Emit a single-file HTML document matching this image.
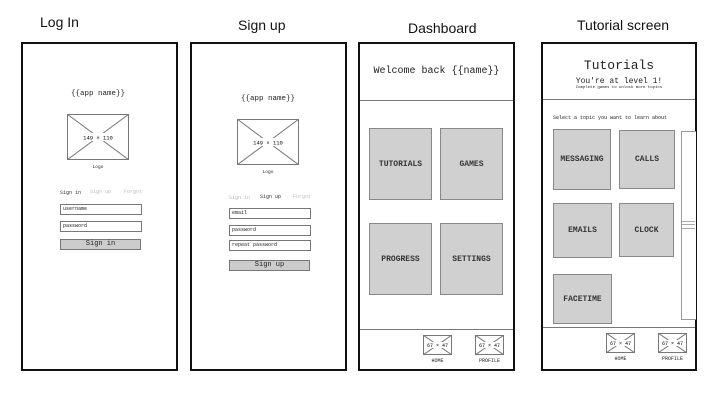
<!DOCTYPE html>
<html><head><meta charset="utf-8"><style>
*{margin:0;padding:0;box-sizing:border-box}
body{width:720px;height:405px;background:#fff;position:relative;overflow:hidden;font-family:"Liberation Mono",monospace;color:#222}
.a{position:absolute}
.frame{position:absolute;border:2px solid #111;background:#fff}
.title{position:absolute;font-family:"Liberation Sans",sans-serif;font-size:14px;color:#111;white-space:nowrap}
.c{position:absolute;text-align:center;white-space:nowrap}
.inp{position:absolute;border:1px solid #777;background:#fff;font-size:5px;padding-left:2px;line-height:9px}
.btn{position:absolute;border:1px solid #777;background:#ccc;font-size:7px;text-align:center}
.tile{position:absolute;background:#d0d0d0;border:1px solid #888;font-size:8px;font-weight:bold;display:flex;align-items:center;justify-content:center;color:#333}
.hl{position:absolute;height:1px;background:#777}
svg{position:absolute}
</style></head><body>

<div class="title" style="left:40px;top:14px">Log In</div>
<div class="title" style="left:238px;top:17px">Sign up</div>
<div class="title" style="left:408px;top:20px">Dashboard</div>
<div class="title" style="left:577px;top:17px">Tutorial screen</div>

<!-- Log In -->
<div class="frame" style="left:21px;top:42px;width:157px;height:329px"></div>
<div class="c" style="left:40px;width:116px;top:90px;font-size:7.5px">{{app name}}</div>
<svg style="left:67px;top:114px" width="62" height="46"><rect x="0.5" y="0.5" width="61" height="45" fill="#fff" stroke="#777"/><line x1="0" y1="0" x2="62" y2="46" stroke="#777"/><line x1="62" y1="0" x2="0" y2="46" stroke="#777"/><rect x="22" y="19" width="18" height="8" fill="#fff"/><text x="31" y="25.5" font-size="5.5" text-anchor="middle" font-family="Liberation Mono">149 × 110</text></svg>
<div class="c" style="left:40px;width:116px;top:165px;font-size:4.5px">Logo</div>
<div class="a" style="left:60px;top:190px;font-size:5px;color:#333">Sign in</div>
<div class="a" style="left:90px;top:189px;font-size:5px;color:#bbb">Sign up</div>
<div class="a" style="left:124px;top:189px;font-size:5px;color:#bbb">Forgot</div>
<div class="inp" style="left:60px;top:204px;width:82px;height:11px">username</div>
<div class="inp" style="left:60px;top:221px;width:82px;height:11px">password</div>
<div class="btn" style="left:60px;top:239px;width:81px;height:11px;line-height:9px">Sign in</div>

<!-- Sign up -->
<div class="frame" style="left:190px;top:42px;width:157px;height:329px"></div>
<div class="c" style="left:210px;width:116px;top:95px;font-size:7.5px">{{app name}}</div>
<svg style="left:237px;top:119px" width="62" height="46"><rect x="0.5" y="0.5" width="61" height="45" fill="#fff" stroke="#777"/><line x1="0" y1="0" x2="62" y2="46" stroke="#777"/><line x1="62" y1="0" x2="0" y2="46" stroke="#777"/><rect x="22" y="19" width="18" height="8" fill="#fff"/><text x="31" y="25.5" font-size="5.5" text-anchor="middle" font-family="Liberation Mono">149 × 110</text></svg>
<div class="c" style="left:210px;width:116px;top:170px;font-size:4.5px">Logo</div>
<div class="a" style="left:229px;top:195px;font-size:5px;color:#bbb">Sign in</div>
<div class="a" style="left:260px;top:194px;font-size:5px;color:#333">Sign up</div>
<div class="a" style="left:293px;top:194px;font-size:5px;color:#bbb">Forgot</div>
<div class="inp" style="left:229px;top:208px;width:82px;height:11px">email</div>
<div class="inp" style="left:229px;top:225px;width:82px;height:11px">password</div>
<div class="inp" style="left:229px;top:240px;width:82px;height:11px">repeat password</div>
<div class="btn" style="left:229px;top:260px;width:81px;height:11px;line-height:9px">Sign up</div>

<!-- Dashboard -->
<div class="frame" style="left:358px;top:42px;width:157px;height:329px"></div>
<div class="c" style="left:360px;width:153px;top:66px;font-size:10px">Welcome back {{name}}</div>
<div class="hl" style="left:360px;width:153px;top:100px"></div>
<div class="tile" style="left:369px;top:128px;width:63px;height:72px">TUTORIALS</div>
<div class="tile" style="left:440px;top:128px;width:63px;height:72px">GAMES</div>
<div class="tile" style="left:369px;top:223px;width:63px;height:72px">PROGRESS</div>
<div class="tile" style="left:440px;top:223px;width:63px;height:72px">SETTINGS</div>
<div class="hl" style="left:360px;width:153px;top:329px"></div>
<svg style="left:423px;top:335px" width="29" height="20"><rect x="0.5" y="0.5" width="28" height="19" fill="#fff" stroke="#777"/><line x1="0" y1="0" x2="29" y2="20" stroke="#777"/><line x1="29" y1="0" x2="0" y2="20" stroke="#777"/><rect x="7" y="7" width="15" height="6" fill="#fff"/><text x="14.5" y="12" font-size="5" text-anchor="middle" font-family="Liberation Mono">67 × 47</text></svg>
<svg style="left:475px;top:335px" width="29" height="20"><rect x="0.5" y="0.5" width="28" height="19" fill="#fff" stroke="#777"/><line x1="0" y1="0" x2="29" y2="20" stroke="#777"/><line x1="29" y1="0" x2="0" y2="20" stroke="#777"/><rect x="7" y="7" width="15" height="6" fill="#fff"/><text x="14.5" y="12" font-size="5" text-anchor="middle" font-family="Liberation Mono">67 × 47</text></svg>
<div class="c" style="left:417px;width:41px;top:358px;font-size:5px">HOME</div>
<div class="c" style="left:469px;width:41px;top:358px;font-size:5px">PROFILE</div>

<!-- Tutorial -->
<div class="frame" style="left:541px;top:42px;width:156px;height:329px"></div>
<div class="c" style="left:543px;width:152px;top:58px;font-size:13px">Tutorials</div>
<div class="c" style="left:543px;width:152px;top:77px;font-size:8px">You're at level 1!</div>
<div class="c" style="left:543px;width:152px;top:86px;font-size:4px">Complete games to unlock more topics</div>
<div class="hl" style="left:543px;width:152px;top:99px"></div>
<div class="a" style="left:553px;top:115px;font-size:5px">Select a topic you want to learn about</div>
<div class="tile" style="left:553px;top:129px;width:58px;height:61px">MESSAGING</div>
<div class="tile" style="left:619px;top:130px;width:56px;height:59px">CALLS</div>
<div class="tile" style="left:553px;top:203px;width:59px;height:55px">EMAILS</div>
<div class="tile" style="left:619px;top:203px;width:55px;height:54px">CLOCK</div>
<div class="tile" style="left:553px;top:274px;width:59px;height:50px">FACETIME</div>
<div class="a" style="left:681px;top:131px;width:15px;height:189px;border:1px solid #999;border-right:none;background:#fff"></div>
<div class="hl" style="left:682px;width:13px;top:221px;background:#aaa"></div>
<div class="hl" style="left:682px;width:13px;top:224px;background:#aaa"></div>
<div class="hl" style="left:682px;width:13px;top:228px;background:#aaa"></div>
<div class="hl" style="left:543px;width:152px;top:327px"></div>
<svg style="left:606px;top:333px" width="29" height="20"><rect x="0.5" y="0.5" width="28" height="19" fill="#fff" stroke="#777"/><line x1="0" y1="0" x2="29" y2="20" stroke="#777"/><line x1="29" y1="0" x2="0" y2="20" stroke="#777"/><rect x="7" y="7" width="15" height="6" fill="#fff"/><text x="14.5" y="12" font-size="5" text-anchor="middle" font-family="Liberation Mono">67 × 47</text></svg>
<svg style="left:658px;top:333px" width="29" height="20"><rect x="0.5" y="0.5" width="28" height="19" fill="#fff" stroke="#777"/><line x1="0" y1="0" x2="29" y2="20" stroke="#777"/><line x1="29" y1="0" x2="0" y2="20" stroke="#777"/><rect x="7" y="7" width="15" height="6" fill="#fff"/><text x="14.5" y="12" font-size="5" text-anchor="middle" font-family="Liberation Mono">67 × 47</text></svg>
<div class="c" style="left:600px;width:41px;top:356px;font-size:5px">HOME</div>
<div class="c" style="left:652px;width:41px;top:356px;font-size:5px">PROFILE</div>

</body></html>
